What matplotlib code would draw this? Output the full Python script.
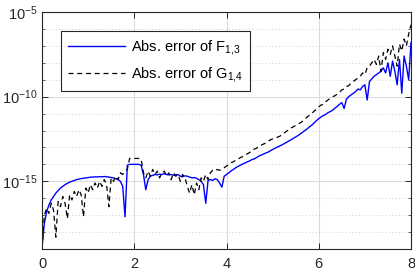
import numpy as np
import matplotlib
matplotlib.use('Agg')
import matplotlib.pyplot as plt
from matplotlib.ticker import FixedLocator, FixedFormatter, NullFormatter

plt.rcParams['font.family'] = ['Liberation Sans', 'DejaVu Sans']
plt.rcParams['mathtext.default'] = 'regular'

# x values (0 to 8, step 0.05)
t = np.linspace(0, 8, 161)

# log10 of abs. error of F_{1,3} (blue)
logF = [-18.9, -17.5, -16.8, -16.4, -16.1, -15.9, -15.7, -15.55, -15.4, -15.3,
        -15.2, -15.12, -15.05, -15.0, -14.95, -14.9, -14.87, -14.84, -14.82, -14.8,
        -14.78, -14.76, -14.75, -14.74, -14.74, -14.73, -14.73, -14.72, -14.73, -14.75,
        -14.78, -14.8, -14.85, -14.9, -15.0, -15.3, -17.1, -14.05, -14.0, -14.0,
        -14.0, -14.0, -14.0, -14.05, -14.6, -15.5, -14.9, -14.7, -14.65, -14.6,
        -14.62, -14.58, -14.6, -14.55, -14.6, -14.62, -14.6, -14.65, -14.62, -14.6,
        -14.7, -14.72, -14.68, -14.7, -14.75, -14.8, -14.78, -14.82, -14.9, -15.0,
        -15.2, -16.3, -14.95, -14.9, -14.95, -14.85, -14.9, -15.1, -15.35, -14.7,
        -14.6, -14.5, -14.38, -14.3, -14.2, -14.12, -14.05, -13.98, -13.92, -13.85,
        -13.8, -13.72, -13.68, -13.6, -13.52, -13.45, -13.4, -13.33, -13.28, -13.2,
        -13.12, -13.05, -12.98, -12.92, -12.85, -12.78, -12.7, -12.62, -12.55, -12.46,
        -12.38, -12.3, -12.2, -12.1, -12.0, -11.9, -11.78, -11.68, -11.55, -11.42,
        -11.3, -11.2, -11.12, -11.05, -10.95, -10.88, -10.8, -10.68, -10.58, -10.45,
        -10.35, -10.7, -10.15, -10.0, -9.9, -9.8, -9.7, -9.55, -9.6, -9.4,
        -9.3, -10.2, -9.1, -8.95, -8.8, -8.7, -8.6, -8.5, -8.3, -8.6,
        -8.0, -8.8, -7.9, -8.5, -9.3, -7.8, -9.8, -7.6, -8.2, -9.0,
        -6.8]

# log10 of abs. error of G_{1,4} (black dashed)
logG = [-19.0, -17.0, -16.6, -16.9, -16.3, -16.7, -18.3, -16.2, -16.5, -15.9,
        -16.3, -17.2, -15.8, -16.1, -15.6, -15.9, -15.5, -15.8, -17.1, -15.4,
        -15.7, -15.2, -15.5, -15.1, -15.4, -15.0, -15.3, -14.9, -15.2, -16.5,
        -14.8, -15.0, -14.7, -14.9, -14.5, -14.6, -14.4, -14.3, -13.65, -13.65,
        -13.65, -13.65, -13.65, -13.7, -14.5, -14.8, -14.4, -14.7, -14.3, -14.6,
        -14.4, -14.8, -14.5, -14.4, -14.7, -14.5, -14.9, -14.5, -14.7, -14.6,
        -15.0, -14.6, -14.8, -15.3, -15.7, -15.2, -15.8, -15.1, -15.5, -14.8,
        -15.0, -14.6, -14.9, -14.5, -14.35, -14.4, -14.3, -14.35, -14.3, -14.2,
        -14.1, -14.0, -13.9, -13.85, -13.75, -13.7, -13.6, -13.55, -13.45, -13.38,
        -13.3, -13.2, -13.1, -13.05, -12.95, -12.88, -12.8, -12.75, -12.65, -12.55,
        -12.5, -12.45, -12.4, -12.35, -12.25, -12.15, -12.05, -11.95, -11.85, -11.78,
        -11.7, -11.62, -11.55, -11.45, -11.35, -11.2, -11.1, -11.0, -10.85, -10.75,
        -10.6, -10.5, -10.45, -10.3, -10.2, -10.1, -10.0, -9.95, -9.85, -9.75,
        -9.6, -9.55, -9.4, -9.35, -9.2, -9.1, -9.0, -8.9, -8.8, -8.6,
        -8.7, -8.3, -8.2, -8.0, -7.8, -8.1, -7.6, -8.5, -7.4, -7.8,
        -7.2, -7.5, -7.0, -7.6, -8.2, -6.9, -7.3, -6.6, -7.0, -6.3,
        -5.75]

fig = plt.figure(figsize=(4.15, 2.77), dpi=100)
ax = fig.add_axes([42/415, 28/277, 369/415, 237/277])

ax.semilogy(t, 10.0**np.array(logF), color='#0000ff', lw=1.0,
            label=r'Abs. error of F$_{1{,}3}$')
ax.semilogy(t, 10.0**np.array(logG), color='k', lw=0.9, ls=(0, (4, 3)),
            label=r'Abs. error of G$_{1{,}4}$')

ax.set_xlim(0, 8)
ax.set_ylim(1e-19, 1e-5)
ax.set_xticks([0, 2, 4, 6, 8])

ax.yaxis.set_major_locator(FixedLocator([1e-15, 1e-10, 1e-5]))
ax.yaxis.set_major_formatter(FixedFormatter([r'$10^{-15}$', r'$10^{-10}$', r'$10^{-5}$']))
minors = [10.0**k for k in range(-19, -5) if k not in (-15, -10)]
ax.yaxis.set_minor_locator(FixedLocator(minors))
ax.yaxis.set_minor_formatter(NullFormatter())
ax.xaxis.set_minor_locator(FixedLocator([]))

edge = '#262626'
for s in ax.spines.values():
    s.set_color(edge)
    s.set_linewidth(0.8)
ax.tick_params(which='both', direction='in', top=True, right=True, color=edge,
               labelsize=10.5, labelcolor='#262626')
ax.tick_params(which='major', length=4, width=0.7)
ax.tick_params(axis='x', which='major', pad=6)
ax.tick_params(axis='y', which='major', pad=3)
ax.tick_params(which='minor', length=2.5, width=0.5)

ax.grid(True, which='major', color='#dcdcdc', lw=0.8, ls='-')
ax.grid(True, which='minor', axis='y', color='#bfbfbf', lw=0.6, ls=(0, (1, 3)))
ax.set_axisbelow(True)

leg = ax.legend(loc='upper left', bbox_to_anchor=(0.051, 0.92), borderaxespad=0,
                fontsize=10.5, handlelength=3.9, handletextpad=0.4, fancybox=False,
                framealpha=1, edgecolor=edge, borderpad=0.5, labelspacing=0.5)
leg.get_frame().set_linewidth(0.8)

fig.savefig('out.png', dpi=100)
